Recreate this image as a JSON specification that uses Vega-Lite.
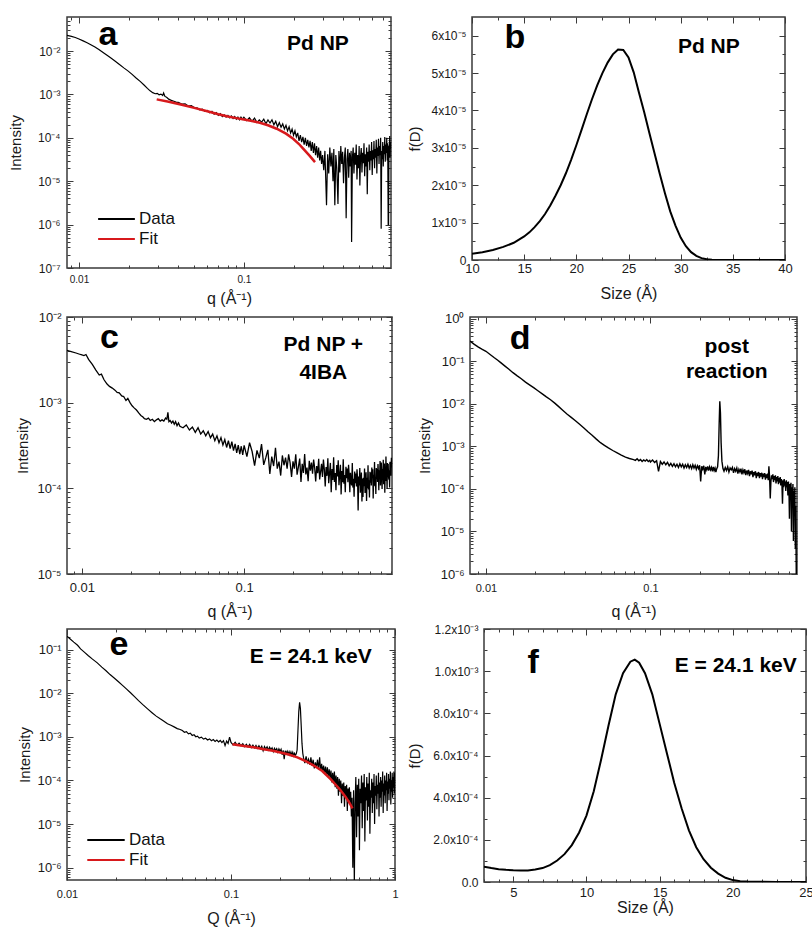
{
"$schema": "https://vega.github.io/schema/vega-lite/v6.json",
"padding": {"left": 7, "top": 15, "right": 0, "bottom": 0},
"config": {
 "font": "Liberation Sans",
 "view": {"stroke": "#3a3a3a", "strokeWidth": 1.5},
 "axis": {"grid": false, "domain": false, "labelFont": "Liberation Sans", "labelFontSize": 13, "labelColor": "#1a1a1a", "titleFont": "Liberation Sans", "titleFontSize": 15, "titleFontWeight": "normal", "titleColor": "#1a1a1a", "tickColor": "#3a3a3a", "tickWidth": 1, "labelFlush": false, "labelOverlap": false, "labelBound": false},
 "axisX": {"titleFontSize": 16},
 "legend": {"labelFont": "Liberation Sans"}
},
"datasets": {
 "a_data": [
  {"q":0.00846,"I":0.023},{"q":0.009,"I":0.0218},{"q":0.0095,"I":0.0205},{"q":0.01,"I":0.019},{"q":0.0106,"I":0.0172},{"q":0.0112,"I":0.0155},{"q":0.0118,"I":0.014},{"q":0.0125,"I":0.0124},{"q":0.0132,"I":0.0108},{"q":0.014,"I":0.0093},{"q":0.0148,"I":0.008},{"q":0.0157,"I":0.0068},{"q":0.0166,"I":0.0058},{"q":0.0176,"I":0.0049},{"q":0.0187,"I":0.0041},{"q":0.0198,"I":0.0035},{"q":0.021,"I":0.0029},{"q":0.0222,"I":0.0024},{"q":0.0235,"I":0.002},{"q":0.0248,"I":0.00165},{"q":0.026,"I":0.00138},{"q":0.027,"I":0.00121},{"q":0.028,"I":0.0011},{"q":0.029,"I":0.00104},{"q":0.0298,"I":0.00106},{"q":0.0306,"I":0.00098},{"q":0.0314,"I":0.00102},{"q":0.0322,"I":0.00095},{"q":0.0326,"I":0.00108},{"q":0.0332,"I":0.0009},{"q":0.034,"I":0.00086},{"q":0.035,"I":0.00078},{"q":0.036,"I":0.00074},{"q":0.037,"I":0.00071},{"q":0.038,"I":0.00069},{"q":0.039,"I":0.00066},
  {"q":0.04,"I":6.6e-4},{"q":0.042,"I":6.0e-4},{"q":0.044,"I":6.1e-4},{"q":0.046,"I":5.4e-4},{"q":0.048,"I":5.5e-4},{"q":0.05,"I":5.0e-4},{"q":0.052,"I":4.9e-4},{"q":0.054,"I":4.4e-4},{"q":0.056,"I":4.6e-4},{"q":0.058,"I":4.1e-4},{"q":0.06,"I":4.3e-4},{"q":0.062,"I":3.8e-4},{"q":0.064,"I":4.1e-4},{"q":0.066,"I":3.5e-4},{"q":0.068,"I":3.8e-4},{"q":0.07,"I":3.3e-4},{"q":0.072,"I":3.6e-4},{"q":0.074,"I":3.1e-4},{"q":0.076,"I":3.4e-4},{"q":0.078,"I":3.0e-4},{"q":0.08,"I":3.3e-4},{"q":0.082,"I":2.9e-4},{"q":0.084,"I":3.2e-4},{"q":0.086,"I":2.8e-4},{"q":0.088,"I":3.1e-4},{"q":0.09,"I":2.7e-4},{"q":0.092,"I":3.0e-4},{"q":0.094,"I":2.6e-4},{"q":0.096,"I":3.0e-4},{"q":0.098,"I":2.7e-4},
  {"q":0.1,"I":3.0e-4},{"q":0.104,"I":2.5e-4},{"q":0.108,"I":2.9e-4},{"q":0.112,"I":2.4e-4},{"q":0.116,"I":2.85e-4},{"q":0.12,"I":2.25e-4},{"q":0.124,"I":2.6e-4},{"q":0.128,"I":2.3e-4},{"q":0.132,"I":2.7e-4},{"q":0.136,"I":2.1e-4},{"q":0.14,"I":2.6e-4},{"q":0.144,"I":2.2e-4},{"q":0.148,"I":2.6e-4},{"q":0.152,"I":2.0e-4},{"q":0.156,"I":2.4e-4},{"q":0.16,"I":1.8e-4},{"q":0.164,"I":2.25e-4},{"q":0.168,"I":1.75e-4},{"q":0.172,"I":2.1e-4},{"q":0.176,"I":1.6e-4},{"q":0.18,"I":1.95e-4},{"q":0.184,"I":1.45e-4},{"q":0.188,"I":1.8e-4},{"q":0.192,"I":1.3e-4},{"q":0.196,"I":1.6e-4},{"q":0.2,"I":1.15e-4},{"q":0.204,"I":1.45e-4},{"q":0.208,"I":1.05e-4},{"q":0.212,"I":1.3e-4},{"q":0.216,"I":8.5e-5},{"q":0.22,"I":1.15e-4},{"q":0.224,"I":8.0e-5},{"q":0.228,"I":1.05e-4},{"q":0.232,"I":7.0e-5},{"q":0.236,"I":1.0e-4},{"q":0.24,"I":6.5e-5},{"q":0.244,"I":9.0e-5},{"q":0.248,"I":6.0e-5},{"q":0.252,"I":8.5e-5},{"q":0.256,"I":5.0e-5},{"q":0.26,"I":8.0e-5},{"q":0.264,"I":4.5e-5},{"q":0.268,"I":7.5e-5},{"q":0.272,"I":4.0e-5},{"q":0.276,"I":6.5e-5},{"q":0.28,"I":3.5e-5},{"q":0.284,"I":6.0e-5},{"q":0.288,"I":3.0e-5},{"q":0.292,"I":5.0e-5},{"q":0.296,"I":2.5e-5},
  {"q":0.3,"I":4.0e-5},{"q":0.305,"I":1.8e-5},{"q":0.31,"I":5.0e-5},{"q":0.317,"I":2.8e-6},{"q":0.322,"I":4.2e-5},{"q":0.327,"I":1.5e-5},{"q":0.332,"I":6.0e-5},{"q":0.337,"I":2.2e-5},{"q":0.342,"I":4.5e-5},{"q":0.347,"I":1.0e-5},{"q":0.351,"I":5.5e-5},{"q":0.356,"I":2.8e-6},{"q":0.361,"I":4.0e-5},{"q":0.366,"I":2.0e-5},{"q":0.372,"I":3.0e-6},{"q":0.377,"I":5.0e-5},{"q":0.382,"I":1.6e-5},{"q":0.387,"I":6.5e-5},{"q":0.392,"I":2.5e-5},{"q":0.397,"I":4.8e-5},{"q":0.402,"I":9.0e-6},{"q":0.407,"I":3.5e-5},{"q":0.412,"I":6.0e-5},{"q":0.417,"I":1.4e-6},{"q":0.422,"I":3.2e-5},{"q":0.427,"I":5.5e-5},{"q":0.432,"I":1.2e-5},{"q":0.437,"I":4.5e-5},{"q":0.442,"I":2.2e-5},{"q":0.447,"I":5.0e-5},{"q":0.45,"I":4.0e-7},{"q":0.455,"I":3.5e-5},{"q":0.46,"I":6.0e-5},{"q":0.465,"I":1.5e-5},{"q":0.47,"I":4.5e-5},{"q":0.475,"I":2.4e-5},{"q":0.48,"I":7.0e-5},{"q":0.485,"I":1.1e-5},{"q":0.49,"I":4.0e-5},{"q":0.495,"I":2.0e-5},{"q":0.5,"I":6.5e-5},{"q":0.505,"I":8.0e-6},{"q":0.51,"I":3.8e-5},{"q":0.515,"I":5.8e-5},{"q":0.52,"I":1.6e-5},{"q":0.525,"I":4.5e-5},{"q":0.53,"I":2.6e-5},{"q":0.535,"I":7.5e-5},{"q":0.54,"I":1.3e-5},{"q":0.545,"I":4.2e-5},{"q":0.55,"I":2.2e-5},{"q":0.555,"I":6.0e-5},{"q":0.56,"I":5.0e-6},{"q":0.565,"I":4.8e-5},{"q":0.57,"I":2.8e-5},{"q":0.575,"I":7.0e-5},{"q":0.58,"I":1.8e-5},{"q":0.585,"I":5.0e-5},{"q":0.59,"I":3.0e-5},{"q":0.595,"I":8.0e-5},{"q":0.6,"I":1.4e-5},{"q":0.605,"I":5.2e-5},{"q":0.61,"I":3.2e-5},{"q":0.615,"I":8.5e-5},{"q":0.62,"I":2.0e-5},{"q":0.625,"I":5.5e-5},{"q":0.63,"I":3.5e-5},{"q":0.635,"I":9.0e-5},{"q":0.64,"I":1.5e-5},{"q":0.645,"I":6.0e-5},{"q":0.65,"I":3.8e-5},{"q":0.655,"I":9.5e-5},{"q":0.66,"I":2.5e-5},{"q":0.665,"I":6.5e-5},{"q":0.67,"I":4.0e-5},{"q":0.675,"I":1.0e-4},{"q":0.68,"I":8.0e-7},{"q":0.685,"I":5.0e-5},{"q":0.69,"I":3.2e-5},{"q":0.695,"I":8.0e-5},{"q":0.7,"I":2.2e-5},{"q":0.705,"I":6.5e-5},{"q":0.71,"I":4.2e-5},{"q":0.715,"I":1.05e-4},{"q":0.72,"I":2.8e-5},{"q":0.725,"I":7.0e-5},{"q":0.73,"I":4.5e-5},{"q":0.735,"I":1.0e-4},{"q":0.74,"I":3.0e-5},{"q":0.745,"I":7.5e-5},{"q":0.75,"I":1.0e-6},{"q":0.754,"I":1.0e-6},{"q":0.758,"I":6.5e-5},{"q":0.762,"I":4.0e-5},{"q":0.766,"I":1.1e-4},{"q":0.77,"I":3.5e-5},{"q":0.774,"I":8.0e-5},{"q":0.778,"I":5.5e-5}
 ],
 "a_fit": [
  {"q":0.0296,"I":7.7e-4},{"q":0.035,"I":6.8e-4},{"q":0.042,"I":5.8e-4},{"q":0.05,"I":4.9e-4},{"q":0.06,"I":4.1e-4},{"q":0.07,"I":3.5e-4},{"q":0.08,"I":3.1e-4},{"q":0.09,"I":2.85e-4},{"q":0.1,"I":2.65e-4},{"q":0.112,"I":2.45e-4},{"q":0.125,"I":2.22e-4},{"q":0.14,"I":1.95e-4},{"q":0.158,"I":1.62e-4},{"q":0.18,"I":1.25e-4},{"q":0.199,"I":9.5e-5},{"q":0.215,"I":7.3e-5},{"q":0.228,"I":5.7e-5},{"q":0.25,"I":3.9e-5},{"q":0.27,"I":2.75e-5}
 ],
 "b_data": [
  {"D":10,"f":1.7e-6},{"D":11,"f":2.1e-6},{"D":12,"f":2.7e-6},{"D":13,"f":3.5e-6},{"D":14,"f":4.6e-6},{"D":15,"f":6.3e-6},{"D":15.5,"f":7.4e-6},{"D":16,"f":8.8e-6},{"D":16.5,"f":1.04e-5},{"D":17,"f":1.23e-5},{"D":17.5,"f":1.46e-5},{"D":18,"f":1.72e-5},{"D":18.5,"f":2.0e-5},{"D":19,"f":2.32e-5},{"D":19.5,"f":2.68e-5},{"D":20,"f":3.07e-5},{"D":20.5,"f":3.48e-5},{"D":21,"f":3.9e-5},{"D":21.5,"f":4.3e-5},{"D":22,"f":4.67e-5},{"D":22.5,"f":5.0e-5},{"D":23,"f":5.28e-5},{"D":23.5,"f":5.5e-5},{"D":24,"f":5.63e-5},{"D":24.5,"f":5.62e-5},{"D":25,"f":5.42e-5},{"D":25.5,"f":5.02e-5},{"D":26,"f":4.48e-5},{"D":26.5,"f":3.96e-5},{"D":27,"f":3.4e-5},{"D":27.5,"f":2.85e-5},{"D":28,"f":2.3e-5},{"D":28.5,"f":1.78e-5},{"D":29,"f":1.3e-5},{"D":29.5,"f":9.2e-6},{"D":30,"f":6.0e-6},{"D":30.5,"f":3.7e-6},{"D":31,"f":2.1e-6},{"D":31.5,"f":1.1e-6},{"D":32,"f":5e-7},{"D":32.5,"f":2e-7},{"D":33,"f":7e-8},{"D":33.5,"f":2e-8},{"D":34,"f":0},{"D":36,"f":0},{"D":38,"f":0},{"D":40,"f":0}
 ],
 "c_data": [
  {"q":0.008,"I":4.1e-3},{"q":0.0086,"I":3.95e-3},{"q":0.0092,"I":3.8e-3},{"q":0.0098,"I":3.65e-3},{"q":0.0103,"I":3.55e-3},{"q":0.0106,"I":3.65e-3},{"q":0.011,"I":3.2e-3},{"q":0.0116,"I":2.8e-3},{"q":0.0122,"I":2.4e-3},{"q":0.0128,"I":2.1e-3},{"q":0.0132,"I":2.15e-3},{"q":0.0137,"I":1.85e-3},{"q":0.0143,"I":1.65e-3},{"q":0.0148,"I":1.55e-3},{"q":0.0154,"I":1.48e-3},{"q":0.016,"I":1.4e-3},{"q":0.0165,"I":1.32e-3},{"q":0.017,"I":1.3e-3},{"q":0.0176,"I":1.2e-3},{"q":0.0181,"I":1.18e-3},{"q":0.0187,"I":1.06e-3},{"q":0.0192,"I":1.12e-3},{"q":0.0198,"I":1.0e-3},{"q":0.0204,"I":9.2e-4},{"q":0.021,"I":8.7e-4},{"q":0.0217,"I":8.2e-4},{"q":0.0224,"I":7.6e-4},{"q":0.0231,"I":7.1e-4},{"q":0.0238,"I":6.8e-4},{"q":0.0243,"I":6.5e-4},{"q":0.025,"I":6.4e-4},{"q":0.0257,"I":6.6e-4},{"q":0.0264,"I":6.2e-4},{"q":0.0272,"I":6.4e-4},{"q":0.028,"I":6.0e-4},{"q":0.0288,"I":6.3e-4},{"q":0.0296,"I":6.5e-4},{"q":0.0304,"I":6.1e-4},{"q":0.0312,"I":6.3e-4},{"q":0.032,"I":6.1e-4},{"q":0.0328,"I":6.6e-4},{"q":0.0334,"I":6.4e-4},{"q":0.0339,"I":7.7e-4},{"q":0.0344,"I":6.0e-4},{"q":0.035,"I":6.2e-4},{"q":0.0357,"I":5.8e-4},{"q":0.0364,"I":6.1e-4},{"q":0.0371,"I":5.6e-4},{"q":0.0378,"I":6.0e-4},{"q":0.0386,"I":5.4e-4},{"q":0.0394,"I":5.8e-4},{"q":0.0402,"I":5.3e-4},
  {"q":0.042,"I":5.1e-4},{"q":0.044,"I":5.5e-4},{"q":0.046,"I":4.8e-4},{"q":0.048,"I":5.2e-4},{"q":0.05,"I":4.5e-4},{"q":0.052,"I":5.1e-4},{"q":0.054,"I":4.3e-4},{"q":0.056,"I":4.7e-4},{"q":0.058,"I":4.1e-4},{"q":0.06,"I":4.6e-4},{"q":0.062,"I":3.9e-4},{"q":0.064,"I":4.3e-4},{"q":0.066,"I":3.6e-4},{"q":0.068,"I":4.1e-4},{"q":0.07,"I":3.4e-4},{"q":0.072,"I":3.9e-4},{"q":0.074,"I":3.2e-4},{"q":0.076,"I":3.7e-4},{"q":0.078,"I":3.0e-4},{"q":0.08,"I":3.6e-4},{"q":0.082,"I":2.9e-4},{"q":0.084,"I":3.5e-4},{"q":0.086,"I":2.75e-4},{"q":0.088,"I":3.3e-4},{"q":0.09,"I":2.6e-4},{"q":0.092,"I":3.2e-4},{"q":0.094,"I":2.5e-4},{"q":0.096,"I":3.1e-4},{"q":0.098,"I":2.45e-4},
  {"q":0.1,"I":3.17e-4},{"q":0.104,"I":2.34e-4},{"q":0.108,"I":3.41e-4},{"q":0.112,"I":2.69e-4},{"q":0.116,"I":1.84e-4},{"q":0.12,"I":2.77e-4},{"q":0.124,"I":2.25e-4},{"q":0.128,"I":3.29e-4},{"q":0.132,"I":1.88e-4},{"q":0.136,"I":2.28e-4},{"q":0.14,"I":2.81e-4},{"q":0.144,"I":1.47e-4},{"q":0.148,"I":2.35e-4},{"q":0.152,"I":1.82e-4},{"q":0.156,"I":2.98e-4},{"q":0.16,"I":1.7e-4},{"q":0.164,"I":2.05e-4},{"q":0.168,"I":1.41e-4},{"q":0.172,"I":2.42e-4},{"q":0.176,"I":1.86e-4},{"q":0.18,"I":2.29e-4},{"q":0.184,"I":1.7e-4},{"q":0.188,"I":2.49e-4},{"q":0.192,"I":1.98e-4},{"q":0.196,"I":1.36e-4},{"q":0.2,"I":2.07e-4},{"q":0.204,"I":1.7e-4},{"q":0.208,"I":2.5e-4},{"q":0.212,"I":1.44e-4},{"q":0.216,"I":1.78e-4},{"q":0.22,"I":2.23e-4},{"q":0.224,"I":1.19e-4},{"q":0.228,"I":1.93e-4},{"q":0.232,"I":1.51e-4},{"q":0.236,"I":2.52e-4},{"q":0.24,"I":1.45e-4},{"q":0.244,"I":1.75e-4},{"q":0.248,"I":1.21e-4},{"q":0.252,"I":2.09e-4},{"q":0.256,"I":1.61e-4},{"q":0.26,"I":2.0e-4},{"q":0.264,"I":1.48e-4},{"q":0.268,"I":2.17e-4},{"q":0.272,"I":1.74e-4},{"q":0.276,"I":1.2e-4},{"q":0.28,"I":1.82e-4},{"q":0.284,"I":1.5e-4},{"q":0.288,"I":2.21e-4},{"q":0.292,"I":1.27e-4},{"q":0.296,"I":1.57e-4},
  {"q":0.3,"I":1.93e-4},{"q":0.304,"I":1.36e-4},{"q":0.308,"I":2.17e-4},{"q":0.312,"I":1.67e-4},{"q":0.316,"I":1.05e-4},{"q":0.32,"I":1.77e-4},{"q":0.324,"I":1.4e-4},{"q":0.328,"I":2.25e-4},{"q":0.332,"I":1.15e-4},{"q":0.336,"I":1.5e-4},{"q":0.34,"I":1.98e-4},{"q":0.344,"I":9.0e-5},{"q":0.348,"I":1.68e-4},{"q":0.352,"I":1.25e-4},{"q":0.356,"I":2.31e-4},{"q":0.36,"I":1.19e-4},{"q":0.364,"I":1.51e-4},{"q":0.368,"I":9.5e-5},{"q":0.372,"I":1.87e-4},{"q":0.376,"I":1.38e-4},{"q":0.38,"I":2.13e-4},{"q":0.384,"I":1.09e-4},{"q":0.388,"I":1.43e-4},{"q":0.392,"I":1.88e-4},{"q":0.396,"I":8.5e-5},{"q":0.4,"I":1.59e-4},{"q":0.404,"I":1.18e-4},{"q":0.408,"I":2.18e-4},{"q":0.412,"I":1.13e-4},{"q":0.416,"I":1.43e-4},{"q":0.42,"I":9.0e-5},{"q":0.424,"I":1.78e-4},{"q":0.428,"I":1.31e-4},{"q":0.432,"I":1.7e-4},{"q":0.436,"I":1.18e-4},{"q":0.44,"I":1.88e-4},{"q":0.444,"I":1.44e-4},{"q":0.448,"I":9.0e-5},{"q":0.452,"I":1.52e-4},{"q":0.456,"I":1.19e-4},{"q":0.46,"I":1.08e-4},{"q":0.464,"I":1.98e-4},{"q":0.468,"I":1.02e-4},{"q":0.472,"I":1.29e-4},{"q":0.476,"I":8.0e-5},{"q":0.48,"I":1.57e-4},{"q":0.484,"I":1.15e-4},{"q":0.488,"I":1.49e-4},{"q":0.492,"I":1.05e-4},{"q":0.496,"I":1.67e-4},{"q":0.5,"I":1.29e-4},{"q":0.504,"I":5.5e-5},{"q":0.508,"I":1.37e-4},{"q":0.512,"I":1.08e-4},{"q":0.516,"I":1.73e-4},{"q":0.52,"I":8.9e-5},{"q":0.524,"I":1.17e-4},{"q":0.528,"I":1.53e-4},{"q":0.532,"I":7.0e-5},{"q":0.536,"I":1.3e-4},{"q":0.54,"I":7.9e-5},{"q":0.544,"I":1.33e-4},{"q":0.548,"I":1.06e-4},{"q":0.552,"I":1.7e-4},{"q":0.556,"I":8.8e-5},{"q":0.56,"I":1.16e-4},{"q":0.564,"I":1.54e-4},{"q":0.568,"I":7.1e-5},{"q":0.572,"I":1.33e-4},{"q":0.576,"I":1.0e-4},{"q":0.58,"I":1.86e-4},{"q":0.584,"I":9.7e-5},{"q":0.588,"I":1.24e-4},{"q":0.592,"I":7.8e-5},{"q":0.596,"I":1.56e-4},{"q":0.6,"I":1.16e-4},{"q":0.604,"I":1.53e-4},{"q":0.608,"I":1.08e-4},{"q":0.612,"I":1.75e-4},{"q":0.616,"I":1.36e-4},{"q":0.62,"I":1.67e-4},{"q":0.624,"I":7.6e-5},{"q":0.628,"I":1.44e-4},{"q":0.632,"I":1.08e-4},{"q":0.636,"I":2.03e-4},{"q":0.64,"I":1.06e-4},{"q":0.644,"I":1.36e-4},{"q":0.648,"I":8.6e-5},{"q":0.652,"I":1.73e-4},{"q":0.656,"I":1.29e-4},{"q":0.66,"I":1.68e-4},{"q":0.664,"I":1.19e-4},{"q":0.668,"I":1.92e-4},{"q":0.672,"I":1.49e-4},{"q":0.676,"I":9.5e-5},{"q":0.68,"I":1.62e-4},{"q":0.684,"I":1.29e-4},{"q":0.688,"I":2.09e-4},{"q":0.692,"I":1.08e-4},{"q":0.696,"I":1.42e-4},{"q":0.7,"I":2.0e-4},{"q":0.704,"I":1.55e-4},{"q":0.708,"I":9.8e-5},{"q":0.712,"I":1.68e-4},{"q":0.716,"I":1.34e-4},{"q":0.72,"I":2.16e-4},{"q":0.724,"I":1.12e-4},{"q":0.728,"I":1.48e-4},{"q":0.732,"I":1.95e-4},{"q":0.736,"I":8.9e-5},{"q":0.74,"I":1.69e-4},{"q":0.744,"I":1.26e-4},{"q":0.748,"I":2.36e-4},{"q":0.752,"I":1.22e-4},{"q":0.756,"I":1.57e-4},{"q":0.76,"I":9.9e-5},{"q":0.764,"I":1.98e-4},{"q":0.768,"I":1.47e-4},{"q":0.772,"I":1.92e-4},{"q":0.776,"I":1.36e-4},{"q":0.78,"I":1.26e-4},{"q":0.784,"I":1.62e-4},{"q":0.788,"I":1.02e-4},{"q":0.792,"I":2.04e-4},{"q":0.796,"I":1.51e-4},{"q":0.8,"I":1.98e-4},{"q":0.804,"I":1.4e-4},{"q":0.808,"I":2.27e-4},{"q":0.812,"I":1.75e-4}
 ],
 "d_data": [
  {"q":0.008,"I":0.3},{"q":0.0085,"I":0.25},{"q":0.009,"I":0.215},{"q":0.0095,"I":0.19},{"q":0.01,"I":0.172},{"q":0.0106,"I":0.145},{"q":0.0112,"I":0.123},{"q":0.0118,"I":0.106},{"q":0.0123,"I":0.093},{"q":0.013,"I":0.078},{"q":0.0138,"I":0.065},{"q":0.0146,"I":0.054},{"q":0.0155,"I":0.0455},{"q":0.0164,"I":0.039},{"q":0.0174,"I":0.0325},{"q":0.0184,"I":0.028},{"q":0.0195,"I":0.024},{"q":0.0207,"I":0.0203},{"q":0.022,"I":0.0172},{"q":0.0233,"I":0.0146},{"q":0.0247,"I":0.0125},{"q":0.0262,"I":0.0104},{"q":0.0277,"I":0.0086},{"q":0.0294,"I":0.007},{"q":0.0312,"I":0.0057},{"q":0.033,"I":0.0048},{"q":0.035,"I":0.004},{"q":0.0371,"I":0.0033},{"q":0.0394,"I":0.0027},{"q":0.0417,"I":0.0022},{"q":0.0442,"I":0.00182},{"q":0.0469,"I":0.00148},{"q":0.0497,"I":0.00122},{"q":0.0525,"I":0.00106},{"q":0.0555,"I":0.00092},{"q":0.059,"I":0.0008},{"q":0.0628,"I":0.0007},{"q":0.0665,"I":0.00062},{"q":0.0705,"I":0.00056},{"q":0.0745,"I":0.00052},{"q":0.079,"I":0.00049},
  {"q":0.081,"I":4.7e-4},{"q":0.083,"I":5.1e-4},{"q":0.085,"I":4.6e-4},{"q":0.087,"I":4.9e-4},{"q":0.089,"I":4.4e-4},{"q":0.091,"I":4.8e-4},{"q":0.093,"I":4.5e-4},{"q":0.095,"I":4.9e-4},{"q":0.097,"I":4.4e-4},{"q":0.099,"I":4.7e-4},
  {"q":0.1,"I":4.3e-4},{"q":0.103,"I":4.8e-4},{"q":0.106,"I":4.2e-4},{"q":0.109,"I":4.6e-4},{"q":0.112,"I":2.6e-4},{"q":0.115,"I":4.4e-4},{"q":0.118,"I":3.8e-4},{"q":0.121,"I":4.3e-4},{"q":0.124,"I":3.7e-4},{"q":0.127,"I":4.2e-4},{"q":0.13,"I":3.5e-4},{"q":0.133,"I":4.0e-4},{"q":0.136,"I":3.4e-4},{"q":0.139,"I":3.9e-4},{"q":0.142,"I":3.3e-4},{"q":0.145,"I":3.8e-4},{"q":0.148,"I":3.2e-4},{"q":0.151,"I":3.9e-4},{"q":0.154,"I":3.3e-4},{"q":0.157,"I":3.8e-4},{"q":0.16,"I":3.1e-4},{"q":0.163,"I":3.7e-4},{"q":0.166,"I":3.2e-4},{"q":0.169,"I":3.8e-4},{"q":0.172,"I":3.1e-4},{"q":0.175,"I":3.6e-4},{"q":0.178,"I":3.0e-4},{"q":0.181,"I":3.7e-4},{"q":0.184,"I":3.1e-4},{"q":0.187,"I":3.6e-4},{"q":0.19,"I":2.9e-4},{"q":0.193,"I":3.5e-4},{"q":0.196,"I":3.0e-4},{"q":0.199,"I":3.6e-4},{"q":0.202,"I":1.5e-4},{"q":0.205,"I":3.4e-4},{"q":0.208,"I":2.9e-4},{"q":0.211,"I":3.5e-4},{"q":0.214,"I":2.2e-4},{"q":0.217,"I":3.3e-4},{"q":0.22,"I":2.8e-4},{"q":0.223,"I":3.4e-4},{"q":0.226,"I":2.7e-4},{"q":0.229,"I":3.3e-4},{"q":0.232,"I":2.8e-4},{"q":0.235,"I":3.2e-4},{"q":0.238,"I":2.6e-4},{"q":0.241,"I":3.3e-4},{"q":0.244,"I":2.7e-4},{"q":0.247,"I":3.1e-4},{"q":0.25,"I":2.5e-4},{"q":0.253,"I":3.0e-4},{"q":0.256,"I":3.3e-4},
  {"q":0.259,"I":6.0e-4},{"q":0.2615,"I":3.0e-3},{"q":0.264,"I":1.15e-2},{"q":0.2665,"I":6.0e-3},{"q":0.269,"I":1.2e-3},{"q":0.272,"I":4.5e-4},{"q":0.276,"I":3.0e-4},
  {"q":0.28,"I":2.6e-4},{"q":0.285,"I":3.2e-4},{"q":0.29,"I":2.7e-4},{"q":0.295,"I":3.3e-4},{"q":0.3,"I":2.5e-4},{"q":0.305,"I":3.1e-4},{"q":0.31,"I":2.8e-4},{"q":0.315,"I":3.2e-4},{"q":0.32,"I":2.4e-4},{"q":0.325,"I":3.0e-4},{"q":0.33,"I":2.6e-4},{"q":0.335,"I":3.1e-4},{"q":0.34,"I":2.3e-4},{"q":0.345,"I":2.9e-4},{"q":0.35,"I":2.5e-4},{"q":0.355,"I":3.0e-4},{"q":0.36,"I":2.2e-4},{"q":0.365,"I":2.8e-4},{"q":0.37,"I":2.4e-4},{"q":0.375,"I":2.9e-4},{"q":0.38,"I":2.1e-4},{"q":0.385,"I":2.7e-4},{"q":0.39,"I":2.3e-4},{"q":0.395,"I":2.8e-4},{"q":0.4,"I":2.0e-4},{"q":0.405,"I":2.6e-4},{"q":0.41,"I":2.2e-4},{"q":0.415,"I":2.7e-4},{"q":0.42,"I":1.9e-4},{"q":0.425,"I":2.5e-4},{"q":0.43,"I":2.1e-4},{"q":0.435,"I":2.6e-4},{"q":0.44,"I":1.8e-4},{"q":0.445,"I":2.4e-4},{"q":0.45,"I":2.0e-4},{"q":0.455,"I":2.5e-4},{"q":0.46,"I":1.8e-4},{"q":0.465,"I":2.35e-4},{"q":0.47,"I":1.95e-4},{"q":0.475,"I":2.4e-4},{"q":0.48,"I":1.7e-4},{"q":0.485,"I":2.3e-4},{"q":0.49,"I":1.9e-4},{"q":0.495,"I":2.35e-4},{"q":0.5,"I":1.65e-4},{"q":0.505,"I":2.2e-4},{"q":0.51,"I":1.8e-4},{"q":0.515,"I":2.3e-4},{"q":0.52,"I":1.6e-4},{"q":0.525,"I":3.4e-4},{"q":0.53,"I":1.9e-4},{"q":0.535,"I":6.0e-5},{"q":0.54,"I":1.5e-4},{"q":0.545,"I":2.1e-4},{"q":0.55,"I":1.7e-4},{"q":0.555,"I":2.2e-4},{"q":0.56,"I":1.45e-4},{"q":0.565,"I":2.0e-4},{"q":0.57,"I":1.6e-4},{"q":0.575,"I":2.1e-4},{"q":0.58,"I":1.35e-4},{"q":0.585,"I":1.9e-4},{"q":0.59,"I":1.5e-4},{"q":0.595,"I":2.0e-4},{"q":0.6,"I":1.3e-4},{"q":0.605,"I":1.8e-4},{"q":0.61,"I":1.4e-4},{"q":0.615,"I":1.9e-4},{"q":0.62,"I":1.2e-4},{"q":0.625,"I":1.7e-4},{"q":0.63,"I":1.35e-4},{"q":0.635,"I":4.5e-5},{"q":0.64,"I":1.6e-4},{"q":0.645,"I":1.1e-4},{"q":0.65,"I":1.7e-4},{"q":0.655,"I":1.2e-4},{"q":0.66,"I":1.5e-4},{"q":0.665,"I":9.0e-5},{"q":0.67,"I":1.6e-4},{"q":0.675,"I":1.1e-4},{"q":0.68,"I":1.45e-4},{"q":0.685,"I":7.0e-5},{"q":0.69,"I":1.5e-4},{"q":0.695,"I":1.0e-4},{"q":0.7,"I":2.0e-5},{"q":0.705,"I":1.3e-4},{"q":0.71,"I":8.0e-5},{"q":0.715,"I":1.4e-4},{"q":0.72,"I":1.0e-5},{"q":0.725,"I":1.1e-4},{"q":0.73,"I":5.0e-5},{"q":0.735,"I":1.3e-4},{"q":0.74,"I":6.0e-6},{"q":0.745,"I":9.0e-5},{"q":0.75,"I":3.0e-5},{"q":0.755,"I":1.1e-4},{"q":0.76,"I":4.0e-6},{"q":0.765,"I":4.0e-5},{"q":0.77,"I":1.0e-6},{"q":0.775,"I":2.0e-6}
 ],
 "e_data": [
  {"q":0.01,"I":0.205},{"q":0.0105,"I":0.175},{"q":0.011,"I":0.15},{"q":0.0116,"I":0.127},{"q":0.0121,"I":0.105},{"q":0.0128,"I":0.087},{"q":0.0135,"I":0.073},{"q":0.0143,"I":0.061},{"q":0.0153,"I":0.05},{"q":0.0163,"I":0.04},{"q":0.0173,"I":0.033},{"q":0.0183,"I":0.027},{"q":0.0194,"I":0.0226},{"q":0.0206,"I":0.0185},{"q":0.0218,"I":0.0152},{"q":0.0231,"I":0.0125},{"q":0.0244,"I":0.0103},{"q":0.0258,"I":0.0084},{"q":0.0273,"I":0.0068},{"q":0.029,"I":0.0055},{"q":0.031,"I":0.0044},{"q":0.033,"I":0.0036},{"q":0.035,"I":0.003},{"q":0.037,"I":0.0026},{"q":0.039,"I":0.0023},{"q":0.041,"I":0.002},{"q":0.043,"I":0.00185},{"q":0.045,"I":0.0017},{"q":0.047,"I":0.00155},{"q":0.049,"I":0.00148},{"q":0.0505,"I":0.0014},{"q":0.052,"I":0.00128},{"q":0.0535,"I":0.00132},{"q":0.055,"I":0.00118},{"q":0.0565,"I":0.00122},{"q":0.058,"I":0.00108},{"q":0.0595,"I":0.00112},{"q":0.061,"I":0.00101},{"q":0.0625,"I":0.00104},{"q":0.064,"I":0.00094},{"q":0.066,"I":0.00099},{"q":0.068,"I":0.00089},{"q":0.07,"I":0.00093},{"q":0.072,"I":0.00085},{"q":0.074,"I":0.0009},{"q":0.076,"I":0.00082},{"q":0.078,"I":0.00087},{"q":0.08,"I":0.00079},{"q":0.082,"I":0.00085},{"q":0.084,"I":0.00077},{"q":0.086,"I":0.00083},{"q":0.088,"I":0.00074},{"q":0.09,"I":0.00082},{"q":0.092,"I":0.00063},{"q":0.094,"I":0.0008},{"q":0.096,"I":0.00071},{"q":0.098,"I":0.00099},{"q":0.1,"I":0.00075},
  {"q":0.103,"I":6.6e-4},{"q":0.106,"I":7.5e-4},{"q":0.109,"I":6.4e-4},{"q":0.112,"I":7.2e-4},{"q":0.115,"I":6.3e-4},{"q":0.118,"I":7.0e-4},{"q":0.121,"I":6.0e-4},{"q":0.124,"I":6.8e-4},{"q":0.127,"I":5.9e-4},{"q":0.13,"I":6.7e-4},{"q":0.133,"I":5.7e-4},{"q":0.136,"I":6.5e-4},{"q":0.139,"I":5.6e-4},{"q":0.142,"I":6.4e-4},{"q":0.145,"I":5.5e-4},{"q":0.148,"I":6.3e-4},{"q":0.151,"I":5.4e-4},{"q":0.154,"I":6.1e-4},{"q":0.157,"I":4.8e-4},{"q":0.16,"I":6.0e-4},{"q":0.163,"I":5.3e-4},{"q":0.166,"I":5.9e-4},{"q":0.169,"I":5.0e-4},{"q":0.172,"I":5.8e-4},{"q":0.175,"I":5.1e-4},{"q":0.178,"I":5.6e-4},{"q":0.181,"I":4.6e-4},{"q":0.184,"I":5.5e-4},{"q":0.187,"I":4.9e-4},{"q":0.19,"I":5.4e-4},{"q":0.193,"I":4.5e-4},{"q":0.196,"I":5.3e-4},{"q":0.199,"I":4.7e-4},{"q":0.202,"I":5.2e-4},{"q":0.205,"I":3.9e-4},{"q":0.208,"I":4.9e-4},{"q":0.211,"I":3.1e-4},{"q":0.214,"I":4.8e-4},{"q":0.217,"I":4.2e-4},{"q":0.22,"I":4.7e-4},{"q":0.223,"I":4.0e-4},{"q":0.226,"I":4.6e-4},{"q":0.229,"I":3.9e-4},{"q":0.232,"I":4.5e-4},{"q":0.235,"I":3.8e-4},{"q":0.238,"I":4.4e-4},{"q":0.241,"I":3.7e-4},{"q":0.244,"I":4.2e-4},{"q":0.247,"I":3.8e-4},{"q":0.25,"I":4.1e-4},
  {"q":0.253,"I":5.0e-4},{"q":0.256,"I":1.4e-3},{"q":0.259,"I":3.8e-3},{"q":0.262,"I":6.2e-3},{"q":0.265,"I":4.5e-3},{"q":0.268,"I":1.8e-3},{"q":0.271,"I":7.0e-4},{"q":0.274,"I":4.2e-4},
  {"q":0.277,"I":3.3e-4},{"q":0.282,"I":2.5e-4},{"q":0.287,"I":3.6e-4},{"q":0.292,"I":2.6e-4},{"q":0.297,"I":3.1e-4},{"q":0.302,"I":2.3e-4},{"q":0.307,"I":3.4e-4},{"q":0.312,"I":2.2e-4},{"q":0.317,"I":3.0e-4},{"q":0.322,"I":1.9e-4},{"q":0.327,"I":2.6e-4},{"q":0.332,"I":2.0e-4},{"q":0.337,"I":3.0e-4},{"q":0.342,"I":1.8e-4},{"q":0.347,"I":3.4e-4},{"q":0.352,"I":1.7e-4},{"q":0.357,"I":2.4e-4},{"q":0.362,"I":1.6e-4},{"q":0.367,"I":2.2e-4},{"q":0.372,"I":1.4e-4},{"q":0.377,"I":2.1e-4},{"q":0.382,"I":1.3e-4},{"q":0.387,"I":2.0e-4},{"q":0.392,"I":1.2e-4},{"q":0.397,"I":1.8e-4},{"q":0.402,"I":1.1e-4},{"q":0.407,"I":1.7e-4},{"q":0.412,"I":9.0e-5},{"q":0.417,"I":1.5e-4},{"q":0.422,"I":8.5e-5},{"q":0.427,"I":1.6e-4},{"q":0.432,"I":7.0e-5},{"q":0.437,"I":1.3e-4},{"q":0.442,"I":6.5e-5},{"q":0.447,"I":1.2e-4},{"q":0.452,"I":4.5e-5},{"q":0.457,"I":1.1e-4},{"q":0.462,"I":5.5e-5},{"q":0.467,"I":1.0e-4},{"q":0.472,"I":3.0e-5},{"q":0.477,"I":8.5e-5},{"q":0.482,"I":4.5e-5},{"q":0.487,"I":9.0e-5},{"q":0.492,"I":2.5e-5},{"q":0.497,"I":7.5e-5},{"q":0.502,"I":4.0e-5},{"q":0.507,"I":8.0e-5},{"q":0.512,"I":2.0e-5},{"q":0.517,"I":6.5e-5},{"q":0.522,"I":3.5e-5},{"q":0.527,"I":7.0e-5},{"q":0.532,"I":2.8e-5},{"q":0.537,"I":5.5e-5},{"q":0.542,"I":1.5e-5},
  {"q":0.547,"I":4.0e-5},{"q":0.553,"I":1.0e-6},{"q":0.559,"I":6.0e-5},{"q":0.565,"I":4.0e-7},{"q":0.571,"I":3.0e-5},{"q":0.577,"I":1.2e-4},{"q":0.583,"I":5.0e-6},{"q":0.589,"I":8.0e-5},{"q":0.595,"I":1.5e-5},{"q":0.601,"I":1.1e-4},{"q":0.607,"I":2.5e-6},{"q":0.613,"I":6.5e-5},{"q":0.619,"I":3.0e-5},{"q":0.625,"I":1.3e-4},{"q":0.631,"I":8.0e-6},{"q":0.637,"I":9.0e-5},{"q":0.643,"I":2.0e-5},{"q":0.649,"I":1.4e-4},{"q":0.655,"I":4.0e-6},{"q":0.661,"I":7.0e-5},{"q":0.667,"I":3.5e-5},{"q":0.673,"I":1.2e-4},{"q":0.679,"I":1.2e-5},{"q":0.685,"I":8.5e-5},{"q":0.691,"I":2.5e-5},{"q":0.697,"I":1.5e-4},{"q":0.703,"I":6.0e-6},{"q":0.709,"I":6.0e-5},{"q":0.715,"I":4.0e-5},{"q":0.721,"I":1.1e-4},{"q":0.727,"I":1.8e-5},{"q":0.733,"I":9.0e-5},{"q":0.739,"I":3.0e-5},{"q":0.745,"I":1.4e-4},{"q":0.751,"I":1.0e-5},{"q":0.757,"I":7.5e-5},{"q":0.763,"I":4.5e-5},{"q":0.769,"I":1.3e-4},{"q":0.775,"I":2.2e-5},{"q":0.781,"I":8.0e-5},{"q":0.787,"I":5.0e-5},{"q":0.793,"I":1.5e-4},{"q":0.799,"I":1.5e-5},{"q":0.805,"I":9.0e-5},{"q":0.811,"I":4.0e-5},{"q":0.817,"I":1.2e-4},{"q":0.823,"I":2.5e-5},{"q":0.829,"I":1.0e-4},{"q":0.835,"I":5.5e-5},{"q":0.841,"I":1.6e-4},{"q":0.847,"I":1.8e-5},{"q":0.853,"I":8.5e-5},{"q":0.859,"I":4.5e-5},{"q":0.865,"I":1.3e-4},{"q":0.871,"I":3.0e-5},{"q":0.877,"I":1.0e-4},{"q":0.883,"I":6.0e-5},{"q":0.889,"I":1.5e-4},{"q":0.895,"I":2.0e-5},{"q":0.901,"I":9.5e-5},{"q":0.907,"I":5.0e-5},{"q":0.913,"I":1.4e-4},{"q":0.919,"I":3.5e-5},{"q":0.925,"I":1.1e-4},{"q":0.931,"I":6.5e-5},{"q":0.937,"I":1.6e-4},{"q":0.943,"I":2.8e-5},{"q":0.949,"I":1.0e-4},{"q":0.955,"I":5.5e-5},{"q":0.961,"I":1.5e-4},{"q":0.967,"I":4.0e-5},{"q":0.973,"I":1.2e-4},{"q":0.979,"I":7.0e-5},{"q":0.985,"I":1.6e-4},{"q":0.991,"I":5.0e-5},{"q":0.997,"I":1.5e-4},{"q":1.0,"I":1.2e-4}
 ],
 "e_fit": [
  {"q":0.102,"I":6.8e-4},{"q":0.12,"I":6.2e-4},{"q":0.14,"I":5.7e-4},{"q":0.158,"I":5.2e-4},{"q":0.18,"I":4.8e-4},{"q":0.2,"I":4.4e-4},{"q":0.225,"I":3.95e-4},{"q":0.254,"I":3.4e-4},{"q":0.285,"I":2.8e-4},{"q":0.32,"I":2.2e-4},{"q":0.36,"I":1.65e-4},{"q":0.405,"I":1.07e-4},{"q":0.435,"I":8.0e-5},{"q":0.467,"I":5.9e-5},{"q":0.5,"I":4.2e-5},{"q":0.53,"I":3.0e-5},{"q":0.55,"I":2.3e-5}
 ],
 "f_data": [
  {"D":3,"f":7.2e-5},{"D":3.5,"f":6.6e-5},{"D":4,"f":6.1e-5},{"D":4.5,"f":5.8e-5},{"D":5,"f":5.6e-5},{"D":5.5,"f":5.5e-5},{"D":6,"f":5.5e-5},{"D":6.5,"f":5.9e-5},{"D":7,"f":6.6e-5},{"D":7.5,"f":8.0e-5},{"D":8,"f":1.02e-4},{"D":8.5,"f":1.32e-4},{"D":9,"f":1.75e-4},{"D":9.5,"f":2.35e-4},{"D":10,"f":3.15e-4},{"D":10.5,"f":4.3e-4},{"D":11,"f":5.8e-4},{"D":11.5,"f":7.4e-4},{"D":12,"f":8.9e-4},{"D":12.5,"f":9.9e-4},{"D":13,"f":1.045e-3},{"D":13.3,"f":1.055e-3},{"D":13.6,"f":1.04e-3},{"D":14,"f":9.9e-4},{"D":14.5,"f":8.9e-4},{"D":15,"f":7.5e-4},{"D":15.5,"f":6.1e-4},{"D":16,"f":4.7e-4},{"D":16.5,"f":3.5e-4},{"D":17,"f":2.45e-4},{"D":17.5,"f":1.65e-4},{"D":18,"f":1.08e-4},{"D":18.5,"f":6.8e-5},{"D":19,"f":4.0e-5},{"D":19.5,"f":2.0e-5},{"D":20,"f":9e-6},{"D":20.5,"f":4e-6},{"D":21,"f":2e-6},{"D":22,"f":1e-6},{"D":23,"f":5e-7},{"D":24,"f":2e-7},{"D":25,"f":0}
 ]
},
"resolve": {"scale": {"x": "independent", "y": "independent", "color": "independent"}},
"spacing": 2,
"vconcat": [
 {
  "spacing": 13,
  "resolve": {"scale": {"x": "independent", "y": "independent", "color": "independent"}},
  "hconcat": [
   {
    "width": 324, "height": 251,
    "resolve": {"axis": {"x": "independent", "y": "independent"}},
    "layer": [
     {"data": {"name": "a_data"}, "mark": {"type": "line", "strokeWidth": 1.2, "clip": true},
      "encoding": {
       "x": {"field": "q", "type": "quantitative", "scale": {"type": "log", "domain": [0.00846, 0.78], "nice": false},
        "axis": {"values": [0.009,0.01,0.02,0.03,0.04,0.05,0.06,0.07,0.08,0.09,0.1,0.2,0.3,0.4,0.5,0.6,0.7], "labelExpr": "abs(datum.value - 0.01) < 1e-6 ? '0.01' : abs(datum.value - 0.1) < 1e-5 ? '0.1' : abs(datum.value - 1) < 1e-4 ? '1' : ''", "tickSize": {"condition": {"test": "abs(log(datum.value)/LN10 - round(log(datum.value)/LN10)) < 0.01", "value": -6}, "value": -3}, "labelFontSize": 10, "labelPadding": 12.5, "title": "q (Å⁻¹)", "titlePadding": 3}},
       "y": {"field": "I", "type": "quantitative", "scale": {"type": "log", "domain": [1e-7, 0.061], "nice": false},
        "axis": {"values": [1e-7,2e-7,3e-7,4e-7,5e-7,6e-7,7e-7,8e-7,9e-7,1e-6,2e-6,3e-6,4e-6,5e-6,6e-6,7e-6,8e-6,9e-6,1e-5,2e-5,3e-5,4e-5,5e-5,6e-5,7e-5,8e-5,9e-5,1e-4,2e-4,3e-4,4e-4,5e-4,6e-4,7e-4,8e-4,9e-4,1e-3,2e-3,3e-3,4e-3,5e-3,6e-3,7e-3,8e-3,9e-3,1e-2,2e-2,3e-2,4e-2,5e-2], "labelExpr": "(abs(log(datum.value)/LN10 - round(log(datum.value)/LN10)) < 0.01) ? '10' + replace(replace(replace(replace(replace(replace(replace(replace(replace(replace(replace('' + round(log(datum.value)/LN10), '-', '⁻'), '0', '⁰'), '1', '¹'), '2', '²'), '3', '³'), '4', '⁴'), '5', '⁵'), '6', '⁶'), '7', '⁷'), '8', '⁸'), '9', '⁹') : ''", "tickSize": {"condition": {"test": "abs(log(datum.value)/LN10 - round(log(datum.value)/LN10)) < 0.01", "value": -6}, "value": -3}, "labelFontSize": {"condition": {"test": "abs(log(datum.value)/LN10 - round(log(datum.value)/LN10)) < 0.01", "value": 12}, "value": 1}, "labelPadding": 13, "title": "Intensity", "titlePadding": 14}},
       "color": {"datum": "Data", "scale": {"domain": ["Data", "Fit"], "range": ["#000000", "#d7191c"]}, "legend": {"orient": "none", "legendX": 30, "legendY": 192, "title": null, "symbolType": "stroke", "symbolSize": 1350, "symbolStrokeWidth": 2, "labelFontSize": 17, "labelColor": "#111", "clipHeight": 20, "rowPadding": 0, "labelOffset": 3}}
      }},
     {"data": {"name": "a_fit"}, "mark": {"type": "line", "strokeWidth": 2.5, "clip": true},
      "encoding": {"x": {"field": "q", "type": "quantitative", "axis": null}, "y": {"field": "I", "type": "quantitative", "axis": null}, "color": {"datum": "Fit"}}},
     {"data": {"values": [{"q": 0.015, "I": 0.0135, "t": "a"}]}, "mark": {"type": "text", "fontSize": 34, "fontWeight": "bold", "align": "center", "baseline": "alphabetic", "color": "#000"},
      "encoding": {
       "x": {"field": "q", "type": "quantitative", "axis": {"orient": "top", "values": [0.009,0.01,0.02,0.03,0.04,0.05,0.06,0.07,0.08,0.09,0.1,0.2,0.3,0.4,0.5,0.6,0.7], "labels": false, "title": null, "tickSize": {"condition": {"test": "abs(log(datum.value)/LN10 - round(log(datum.value)/LN10)) < 0.01", "value": -6}, "value": -3}}},
       "y": {"field": "I", "type": "quantitative", "axis": {"orient": "right", "values": [1e-7,2e-7,3e-7,4e-7,5e-7,6e-7,7e-7,8e-7,9e-7,1e-6,2e-6,3e-6,4e-6,5e-6,6e-6,7e-6,8e-6,9e-6,1e-5,2e-5,3e-5,4e-5,5e-5,6e-5,7e-5,8e-5,9e-5,1e-4,2e-4,3e-4,4e-4,5e-4,6e-4,7e-4,8e-4,9e-4,1e-3,2e-3,3e-3,4e-3,5e-3,6e-3,7e-3,8e-3,9e-3,1e-2,2e-2,3e-2,4e-2,5e-2], "labels": false, "title": null, "tickSize": {"condition": {"test": "abs(log(datum.value)/LN10 - round(log(datum.value)/LN10)) < 0.01", "value": -6}, "value": -3}}},
       "text": {"field": "t", "type": "nominal"}}},
     {"data": {"values": [{"q": 0.281, "I": 0.0104, "t": "Pd NP"}]}, "mark": {"type": "text", "fontSize": 21, "fontWeight": "bold", "align": "center", "baseline": "alphabetic", "color": "#000"},
      "encoding": {"x": {"field": "q", "type": "quantitative", "axis": null}, "y": {"field": "I", "type": "quantitative", "axis": null}, "text": {"field": "t", "type": "nominal"}}}
    ]
   },
   {
    "width": 313, "height": 243,
    "resolve": {"axis": {"x": "independent", "y": "independent"}},
    "layer": [
     {"data": {"name": "b_data"}, "mark": {"type": "line", "strokeWidth": 2, "color": "#000", "clip": true},
      "encoding": {
       "x": {"field": "D", "type": "quantitative", "scale": {"domain": [10, 40], "nice": false, "zero": false},
        "axis": {"values": [10,12.5,15,17.5,20,22.5,25,27.5,30,32.5,35,37.5,40], "labelExpr": "datum.value % 5 == 0 ? '' + datum.value : ''", "tickSize": {"condition": {"test": "datum.value % 5 == 0", "value": -6}, "value": -3}, "labelPadding": 8, "title": "Size (Å)", "titlePadding": 7}},
       "y": {"field": "f", "type": "quantitative", "scale": {"domain": [0, 6.5e-5], "nice": false},
        "axis": {"values": [0,5e-6,1e-5,1.5e-5,2e-5,2.5e-5,3e-5,3.5e-5,4e-5,4.5e-5,5e-5,5.5e-5,6e-5], "labelExpr": "abs(datum.value*1e5 - round(datum.value*1e5)) > 0.01 ? '' : datum.value == 0 ? '0' : round(datum.value*1e5) + 'x10⁻⁵'", "tickSize": {"condition": {"test": "abs(datum.value*1e5 - round(datum.value*1e5)) < 0.01", "value": -6}, "value": -3}, "labelFontSize": 12, "labelPadding": 12, "title": "f(D)", "titlePadding": 9}}
      }},
     {"data": {"values": [{"D": 14.1, "f": 5.675e-5, "t": "b"}]}, "mark": {"type": "text", "fontSize": 34, "fontWeight": "bold", "align": "center", "baseline": "alphabetic", "color": "#000"},
      "encoding": {
       "x": {"field": "D", "type": "quantitative", "axis": {"orient": "top", "values": [10,12.5,15,17.5,20,22.5,25,27.5,30,32.5,35,37.5,40], "labels": false, "title": null, "tickSize": {"condition": {"test": "datum.value % 5 == 0", "value": -6}, "value": -3}}},
       "y": {"field": "f", "type": "quantitative", "axis": {"orient": "right", "values": [0,5e-6,1e-5,1.5e-5,2e-5,2.5e-5,3e-5,3.5e-5,4e-5,4.5e-5,5e-5,5.5e-5,6e-5], "labels": false, "title": null, "tickSize": {"condition": {"test": "abs(datum.value*1e5 - round(datum.value*1e5)) < 0.01", "value": -6}, "value": -3}}},
       "text": {"field": "t", "type": "nominal"}}},
     {"data": {"values": [{"D": 32.7, "f": 5.54e-5, "t": "Pd NP"}]}, "mark": {"type": "text", "fontSize": 21, "fontWeight": "bold", "align": "center", "baseline": "alphabetic", "color": "#000"},
      "encoding": {"x": {"field": "D", "type": "quantitative", "axis": null}, "y": {"field": "f", "type": "quantitative", "axis": null}, "text": {"field": "t", "type": "nominal"}}}
    ]
   }
  ]
 },
 {
  "spacing": 22,
  "resolve": {"scale": {"x": "independent", "y": "independent", "color": "independent"}},
  "hconcat": [
   {
    "width": 325, "height": 257,
    "resolve": {"axis": {"x": "independent", "y": "independent"}},
    "layer": [
     {"data": {"name": "c_data"}, "mark": {"type": "line", "strokeWidth": 1.3, "color": "#000", "clip": true},
      "encoding": {
       "x": {"field": "q", "type": "quantitative", "scale": {"type": "log", "domain": [0.0081, 0.815], "nice": false},
        "axis": {"values": [0.009,0.01,0.02,0.03,0.04,0.05,0.06,0.07,0.08,0.09,0.1,0.2,0.3,0.4,0.5,0.6,0.7,0.8], "labelExpr": "abs(datum.value - 0.01) < 1e-6 ? '0.01' : abs(datum.value - 0.1) < 1e-5 ? '0.1' : abs(datum.value - 1) < 1e-4 ? '1' : ''", "tickSize": {"condition": {"test": "abs(log(datum.value)/LN10 - round(log(datum.value)/LN10)) < 0.01", "value": -6}, "value": -3}, "labelPadding": 13, "title": "q (Å⁻¹)", "titlePadding": 6}},
       "y": {"field": "I", "type": "quantitative", "scale": {"type": "log", "domain": [1e-5, 1e-2], "nice": false},
        "axis": {"values": [1e-5,2e-5,3e-5,4e-5,5e-5,6e-5,7e-5,8e-5,9e-5,1e-4,2e-4,3e-4,4e-4,5e-4,6e-4,7e-4,8e-4,9e-4,1e-3,2e-3,3e-3,4e-3,5e-3,6e-3,7e-3,8e-3,9e-3,1e-2], "labelExpr": "(abs(log(datum.value)/LN10 - round(log(datum.value)/LN10)) < 0.01) ? '10' + replace(replace(replace(replace(replace(replace(replace(replace(replace(replace(replace('' + round(log(datum.value)/LN10), '-', '⁻'), '0', '⁰'), '1', '¹'), '2', '²'), '3', '³'), '4', '⁴'), '5', '⁵'), '6', '⁶'), '7', '⁷'), '8', '⁸'), '9', '⁹') : ''", "tickSize": {"condition": {"test": "abs(log(datum.value)/LN10 - round(log(datum.value)/LN10)) < 0.01", "value": -6}, "value": -3}, "labelPadding": 12, "title": "Intensity", "titlePadding": 6}}
      }},
     {"data": {"values": [{"q": 0.0148, "I": 4.34e-3, "t": "c"}]}, "mark": {"type": "text", "fontSize": 34, "fontWeight": "bold", "align": "center", "baseline": "alphabetic", "color": "#000"},
      "encoding": {
       "x": {"field": "q", "type": "quantitative", "axis": {"orient": "top", "values": [0.009,0.01,0.02,0.03,0.04,0.05,0.06,0.07,0.08,0.09,0.1,0.2,0.3,0.4,0.5,0.6,0.7,0.8], "labels": false, "title": null, "tickSize": {"condition": {"test": "abs(log(datum.value)/LN10 - round(log(datum.value)/LN10)) < 0.01", "value": -6}, "value": -3}}},
       "y": {"field": "I", "type": "quantitative", "axis": {"orient": "right", "values": [1e-5,2e-5,3e-5,4e-5,5e-5,6e-5,7e-5,8e-5,9e-5,1e-4,2e-4,3e-4,4e-4,5e-4,6e-4,7e-4,8e-4,9e-4,1e-3,2e-3,3e-3,4e-3,5e-3,6e-3,7e-3,8e-3,9e-3,1e-2], "labels": false, "title": null, "tickSize": {"condition": {"test": "abs(log(datum.value)/LN10 - round(log(datum.value)/LN10)) < 0.01", "value": -6}, "value": -3}}},
       "text": {"field": "t", "type": "nominal"}}},
     {"data": {"values": [{"q": 0.3076, "I": 3.98e-3, "t": "Pd NP +\n4IBA"}]}, "mark": {"type": "text", "fontSize": 21, "fontWeight": "bold", "align": "center", "baseline": "alphabetic", "lineBreak": "\n", "lineHeight": 28, "color": "#000"},
      "encoding": {"x": {"field": "q", "type": "quantitative", "axis": null}, "y": {"field": "I", "type": "quantitative", "axis": null}, "text": {"field": "t", "type": "nominal"}}}
    ]
   },
   {
    "width": 327, "height": 257,
    "resolve": {"axis": {"x": "independent", "y": "independent"}},
    "layer": [
     {"data": {"name": "d_data"}, "mark": {"type": "line", "strokeWidth": 1.4, "color": "#000", "clip": true},
      "encoding": {
       "x": {"field": "q", "type": "quantitative", "scale": {"type": "log", "domain": [0.008, 0.778], "nice": false},
        "axis": {"values": [0.009,0.01,0.02,0.03,0.04,0.05,0.06,0.07,0.08,0.09,0.1,0.2,0.3,0.4,0.5,0.6,0.7], "labelExpr": "abs(datum.value - 0.01) < 1e-6 ? '0.01' : abs(datum.value - 0.1) < 1e-5 ? '0.1' : abs(datum.value - 1) < 1e-4 ? '1' : ''", "tickSize": {"condition": {"test": "abs(log(datum.value)/LN10 - round(log(datum.value)/LN10)) < 0.01", "value": -6}, "value": -3}, "labelFontSize": 11, "labelPadding": 14, "title": "q (Å⁻¹)", "titlePadding": 7}},
       "y": {"field": "I", "type": "quantitative", "scale": {"type": "log", "domain": [1e-6, 1.1], "nice": false},
        "axis": {"values": [1e-6,2e-6,3e-6,4e-6,5e-6,6e-6,7e-6,8e-6,9e-6,1e-5,2e-5,3e-5,4e-5,5e-5,6e-5,7e-5,8e-5,9e-5,1e-4,2e-4,3e-4,4e-4,5e-4,6e-4,7e-4,8e-4,9e-4,1e-3,2e-3,3e-3,4e-3,5e-3,6e-3,7e-3,8e-3,9e-3,1e-2,2e-2,3e-2,4e-2,5e-2,6e-2,7e-2,8e-2,9e-2,0.1,0.2,0.3,0.4,0.5,0.6,0.7,0.8,0.9,1], "labelExpr": "(abs(log(datum.value)/LN10 - round(log(datum.value)/LN10)) < 0.01) ? '10' + replace(replace(replace(replace(replace(replace(replace(replace(replace(replace(replace('' + round(log(datum.value)/LN10), '-', '⁻'), '0', '⁰'), '1', '¹'), '2', '²'), '3', '³'), '4', '⁴'), '5', '⁵'), '6', '⁶'), '7', '⁷'), '8', '⁸'), '9', '⁹') : ''", "tickSize": {"condition": {"test": "abs(log(datum.value)/LN10 - round(log(datum.value)/LN10)) < 0.01", "value": -6}, "value": -3}, "labelPadding": 12, "title": "Intensity", "titlePadding": 7.5}}
      }},
     {"data": {"values": [{"q": 0.01615, "I": 0.194, "t": "d"}]}, "mark": {"type": "text", "fontSize": 34, "fontWeight": "bold", "align": "center", "baseline": "alphabetic", "color": "#000"},
      "encoding": {
       "x": {"field": "q", "type": "quantitative", "axis": {"orient": "top", "values": [0.009,0.01,0.02,0.03,0.04,0.05,0.06,0.07,0.08,0.09,0.1,0.2,0.3,0.4,0.5,0.6,0.7], "labels": false, "title": null, "tickSize": {"condition": {"test": "abs(log(datum.value)/LN10 - round(log(datum.value)/LN10)) < 0.01", "value": -6}, "value": -3}}},
       "y": {"field": "I", "type": "quantitative", "axis": {"orient": "right", "values": [1e-6,2e-6,3e-6,4e-6,5e-6,6e-6,7e-6,8e-6,9e-6,1e-5,2e-5,3e-5,4e-5,5e-5,6e-5,7e-5,8e-5,9e-5,1e-4,2e-4,3e-4,4e-4,5e-4,6e-4,7e-4,8e-4,9e-4,1e-3,2e-3,3e-3,4e-3,5e-3,6e-3,7e-3,8e-3,9e-3,1e-2,2e-2,3e-2,4e-2,5e-2,6e-2,7e-2,8e-2,9e-2,0.1,0.2,0.3,0.4,0.5,0.6,0.7,0.8,0.9,1], "labels": false, "title": null, "tickSize": {"condition": {"test": "abs(log(datum.value)/LN10 - round(log(datum.value)/LN10)) < 0.01", "value": -6}, "value": -3}}},
       "text": {"field": "t", "type": "nominal"}}},
     {"data": {"values": [{"q": 0.291, "I": 0.161, "t": "post\nreaction"}]}, "mark": {"type": "text", "fontSize": 21, "fontWeight": "bold", "align": "center", "baseline": "alphabetic", "lineBreak": "\n", "lineHeight": 25, "color": "#000"},
      "encoding": {"x": {"field": "q", "type": "quantitative", "axis": null}, "y": {"field": "I", "type": "quantitative", "axis": null}, "text": {"field": "t", "type": "nominal"}}}
    ]
   }
  ]
 },
 {
  "spacing": 8,
  "resolve": {"scale": {"x": "independent", "y": "independent", "color": "independent"}},
  "hconcat": [
   {
    "width": 328, "height": 251,
    "resolve": {"axis": {"x": "independent", "y": "independent"}},
    "layer": [
     {"data": {"name": "e_data"}, "mark": {"type": "line", "strokeWidth": 1.2, "clip": true},
      "encoding": {
       "x": {"field": "q", "type": "quantitative", "scale": {"type": "log", "domain": [0.01, 1], "nice": false},
        "axis": {"values": [0.01,0.02,0.03,0.04,0.05,0.06,0.07,0.08,0.09,0.1,0.2,0.3,0.4,0.5,0.6,0.7,0.8,0.9,1], "labelExpr": "abs(datum.value - 0.01) < 1e-6 ? '0.01' : abs(datum.value - 0.1) < 1e-5 ? '0.1' : abs(datum.value - 1) < 1e-4 ? '1' : ''", "tickSize": {"condition": {"test": "abs(log(datum.value)/LN10 - round(log(datum.value)/LN10)) < 0.01", "value": -6}, "value": -3}, "labelFontSize": 11, "labelPadding": 14, "title": "Q (Å⁻¹)", "titlePadding": 8}},
       "y": {"field": "I", "type": "quantitative", "scale": {"type": "log", "domain": [5.2e-7, 0.3], "nice": false},
        "axis": {"values": [6e-7,7e-7,8e-7,9e-7,1e-6,2e-6,3e-6,4e-6,5e-6,6e-6,7e-6,8e-6,9e-6,1e-5,2e-5,3e-5,4e-5,5e-5,6e-5,7e-5,8e-5,9e-5,1e-4,2e-4,3e-4,4e-4,5e-4,6e-4,7e-4,8e-4,9e-4,1e-3,2e-3,3e-3,4e-3,5e-3,6e-3,7e-3,8e-3,9e-3,1e-2,2e-2,3e-2,4e-2,5e-2,6e-2,7e-2,8e-2,9e-2,0.1,0.2], "labelExpr": "(abs(log(datum.value)/LN10 - round(log(datum.value)/LN10)) < 0.01) ? '10' + replace(replace(replace(replace(replace(replace(replace(replace(replace(replace(replace('' + round(log(datum.value)/LN10), '-', '⁻'), '0', '⁰'), '1', '¹'), '2', '²'), '3', '³'), '4', '⁴'), '5', '⁵'), '6', '⁶'), '7', '⁷'), '8', '⁸'), '9', '⁹') : ''", "tickSize": {"condition": {"test": "abs(log(datum.value)/LN10 - round(log(datum.value)/LN10)) < 0.01", "value": -6}, "value": -3}, "labelPadding": 12, "title": "Intensity", "titlePadding": 4}},
       "color": {"datum": "Data", "scale": {"domain": ["Data", "Fit"], "range": ["#000000", "#d7191c"]}, "legend": {"orient": "none", "legendX": 19, "legendY": 201, "title": null, "symbolType": "stroke", "symbolSize": 1400, "symbolStrokeWidth": 2, "labelFontSize": 17, "labelColor": "#111", "clipHeight": 20, "rowPadding": 0, "labelOffset": 3}}
      }},
     {"data": {"name": "e_fit"}, "mark": {"type": "line", "strokeWidth": 2.5, "clip": true},
      "encoding": {"x": {"field": "q", "type": "quantitative", "axis": null}, "y": {"field": "I", "type": "quantitative", "axis": null}, "color": {"datum": "Fit"}}},
     {"data": {"values": [{"q": 0.02075, "I": 0.0769, "t": "e"}]}, "mark": {"type": "text", "fontSize": 34, "fontWeight": "bold", "align": "center", "baseline": "alphabetic", "color": "#000"},
      "encoding": {
       "x": {"field": "q", "type": "quantitative", "axis": {"orient": "top", "values": [0.01,0.02,0.03,0.04,0.05,0.06,0.07,0.08,0.09,0.1,0.2,0.3,0.4,0.5,0.6,0.7,0.8,0.9,1], "labels": false, "title": null, "tickSize": {"condition": {"test": "abs(log(datum.value)/LN10 - round(log(datum.value)/LN10)) < 0.01", "value": -6}, "value": -3}}},
       "y": {"field": "I", "type": "quantitative", "axis": {"orient": "right", "values": [6e-7,7e-7,8e-7,9e-7,1e-6,2e-6,3e-6,4e-6,5e-6,6e-6,7e-6,8e-6,9e-6,1e-5,2e-5,3e-5,4e-5,5e-5,6e-5,7e-5,8e-5,9e-5,1e-4,2e-4,3e-4,4e-4,5e-4,6e-4,7e-4,8e-4,9e-4,1e-3,2e-3,3e-3,4e-3,5e-3,6e-3,7e-3,8e-3,9e-3,1e-2,2e-2,3e-2,4e-2,5e-2,6e-2,7e-2,8e-2,9e-2,0.1,0.2], "labels": false, "title": null, "tickSize": {"condition": {"test": "abs(log(datum.value)/LN10 - round(log(datum.value)/LN10)) < 0.01", "value": -6}, "value": -3}}},
       "text": {"field": "t", "type": "nominal"}}},
     {"data": {"values": [{"q": 0.306, "I": 0.0495, "t": "E = 24.1 keV"}]}, "mark": {"type": "text", "fontSize": 21, "fontWeight": "bold", "align": "center", "baseline": "alphabetic", "color": "#000"},
      "encoding": {"x": {"field": "q", "type": "quantitative", "axis": null}, "y": {"field": "I", "type": "quantitative", "axis": null}, "text": {"field": "t", "type": "nominal"}}}
    ]
   },
   {
    "width": 322, "height": 253,
    "resolve": {"axis": {"x": "independent", "y": "independent"}},
    "layer": [
     {"data": {"name": "f_data"}, "mark": {"type": "line", "strokeWidth": 2, "color": "#000", "clip": true},
      "encoding": {
       "x": {"field": "D", "type": "quantitative", "scale": {"domain": [3, 25], "nice": false, "zero": false},
        "axis": {"values": [3,4,5,6,7,8,9,10,11,12,13,14,15,16,17,18,19,20,21,22,23,24,25], "labelExpr": "datum.value % 5 == 0 ? '' + datum.value : ''", "tickSize": {"condition": {"test": "datum.value % 5 == 0", "value": -6}, "value": -3}, "labelPadding": 10, "title": "Size (Å)", "titlePadding": -3}},
       "y": {"field": "f", "type": "quantitative", "scale": {"domain": [0, 1.2e-3], "nice": false},
        "axis": {"values": [0,1e-4,2e-4,3e-4,4e-4,5e-4,6e-4,7e-4,8e-4,9e-4,1e-3,1.1e-3,1.2e-3], "labelExpr": "abs(datum.value*5000 - round(datum.value*5000)) > 0.01 ? '' : datum.value == 0 ? '0.0' : datum.value < 9e-4 ? format(datum.value*1e4, '.1f') + 'x10⁻⁴' : format(datum.value*1e3, '.1f') + 'x10⁻³'", "tickSize": {"condition": {"test": "abs(datum.value*5000 - round(datum.value*5000)) < 0.01", "value": -6}, "value": -3}, "labelFontSize": 12, "labelPadding": 12, "title": "f(D)", "titlePadding": 10}}
      }},
     {"data": {"values": [{"D": 6.36, "f": 9.9e-4, "t": "f"}]}, "mark": {"type": "text", "fontSize": 34, "fontWeight": "bold", "align": "center", "baseline": "alphabetic", "color": "#000"},
      "encoding": {
       "x": {"field": "D", "type": "quantitative", "axis": {"orient": "top", "values": [3,4,5,6,7,8,9,10,11,12,13,14,15,16,17,18,19,20,21,22,23,24,25], "labels": false, "title": null, "tickSize": {"condition": {"test": "datum.value % 5 == 0", "value": -6}, "value": -3}}},
       "y": {"field": "f", "type": "quantitative", "axis": {"orient": "right", "values": [0,1e-4,2e-4,3e-4,4e-4,5e-4,6e-4,7e-4,8e-4,9e-4,1e-3,1.1e-3,1.2e-3], "labels": false, "title": null, "tickSize": {"condition": {"test": "abs(datum.value*5000 - round(datum.value*5000)) < 0.01", "value": -6}, "value": -3}}},
       "text": {"field": "t", "type": "nominal"}}},
     {"data": {"values": [{"D": 20.2, "f": 9.98e-4, "t": "E = 24.1 keV"}]}, "mark": {"type": "text", "fontSize": 21, "fontWeight": "bold", "align": "center", "baseline": "alphabetic", "color": "#000"},
      "encoding": {"x": {"field": "D", "type": "quantitative", "axis": null}, "y": {"field": "f", "type": "quantitative", "axis": null}, "text": {"field": "t", "type": "nominal"}}}
    ]
   }
  ]
 }
]
}
